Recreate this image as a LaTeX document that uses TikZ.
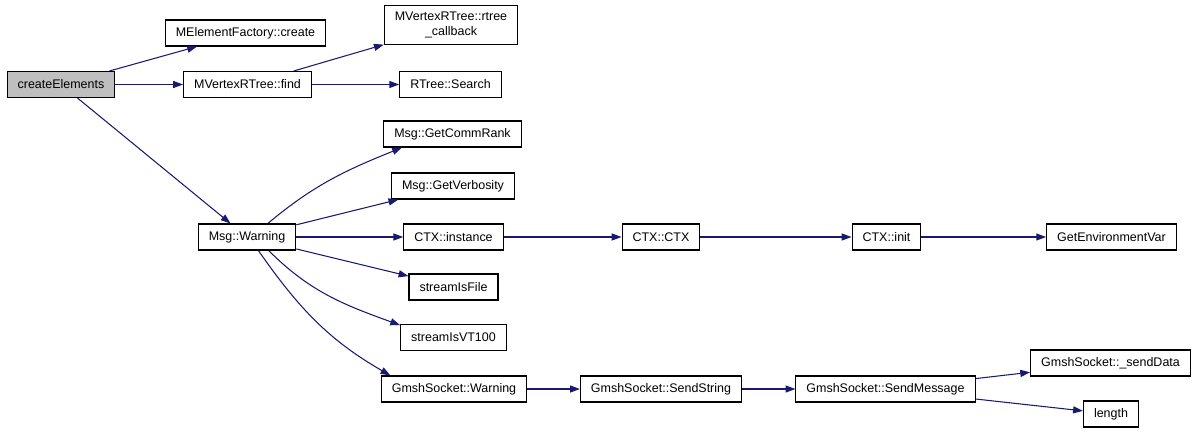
\documentclass[tikz,border=0pt]{standalone}
\usepackage{fontspec}
\setmainfont{Liberation Sans}
\usetikzlibrary{arrows.meta}
\definecolor{callblue}{HTML}{191970}
\definecolor{rootgray}{HTML}{BFBFBF}
\begin{document}
\begin{tikzpicture}[x=0.02cm,y=0.02cm,
  fnbox/.style={draw,line width=0.6pt,inner xsep=6pt,inner ysep=0pt,minimum height=14.8pt,font=\fontsize{7.1}{8.5}\selectfont},
  rootbox/.style={fnbox,fill=rootgray},
  calledge/.style={draw=callblue,line width=0.6pt,-{Triangle[length=5.6pt,width=4pt]}}]
\useasboundingbox (0,0) rectangle (1200,-433);
% root of the graph
\node[rootbox] (create) at (61,-84.5) {createElements};
% first column of calls
\node[fnbox] (factory) at (245.5,-33) {MElementFactory::create};
\node[fnbox] (find) at (247.5,-84.5) {MVertexRTree::find};
\node[fnbox] (warn) at (247,-237) {Msg::Warning};
% second column
\node[fnbox,align=center,minimum height=22.7pt] (callback) at (451,-25) {MVertexRTree::rtree\\\_callback};
\node[fnbox] (search) at (450.5,-84.5) {RTree::Search};
\node[fnbox] (rank) at (452.5,-134) {Msg::GetCommRank};
\node[fnbox] (verb) at (453,-186) {Msg::GetVerbosity};
\node[fnbox] (inst) at (453.5,-237) {CTX::instance};
\node[fnbox] (isfile) at (453.5,-287) {streamIsFile};
\node[fnbox] (isvt) at (453.5,-337.5) {streamIsVT100};
\node[fnbox] (gwarn) at (454,-389) {GmshSocket::Warning};
% third and fourth column
\node[fnbox] (ctx) at (661,-237) {CTX::CTX};
\node[fnbox] (sendstr) at (661,-389) {GmshSocket::SendString};
\node[fnbox] (init) at (886.5,-237) {CTX::init};
\node[fnbox] (sendmsg) at (885.5,-389) {GmshSocket::SendMessage};
% last column
\node[fnbox] (getenv) at (1111.5,-237) {GetEnvironmentVar};
\node[fnbox] (senddata) at (1110.5,-363) {GmshSocket::\_sendData};
\node[fnbox] (length) at (1111,-414) {length};
% calls of createElements
\draw[calledge] (create) -- (factory);
\draw[calledge] (create) -- (find);
\draw[calledge] (create) -- (warn);
% calls of MVertexRTree::find
\draw[calledge] (find) -- (callback);
\draw[calledge] (find) -- (search);
% calls of Msg::Warning
\draw[calledge] (warn.33) to[out=40, in=202] (rank.195);
\draw[calledge] (warn) -- (verb);
\draw[calledge] (warn) -- (inst);
\draw[calledge] (warn) -- (isfile);
\draw[calledge] (warn.-32) to[out=-45, in=160] (isvt.167);
\draw[calledge] (warn.-50) to[out=-55, in=150] (gwarn.168);
% chain of CTX
\draw[calledge] (inst) -- (ctx);
\draw[calledge] (ctx) -- (init);
\draw[calledge] (init) -- (getenv);
% chain of GmshSocket
\draw[calledge] (gwarn) -- (sendstr);
\draw[calledge] (sendstr) -- (sendmsg);
\draw[calledge] (sendmsg) -- (senddata);
\draw[calledge] (sendmsg) -- (length);
\end{tikzpicture}
\end{document}
